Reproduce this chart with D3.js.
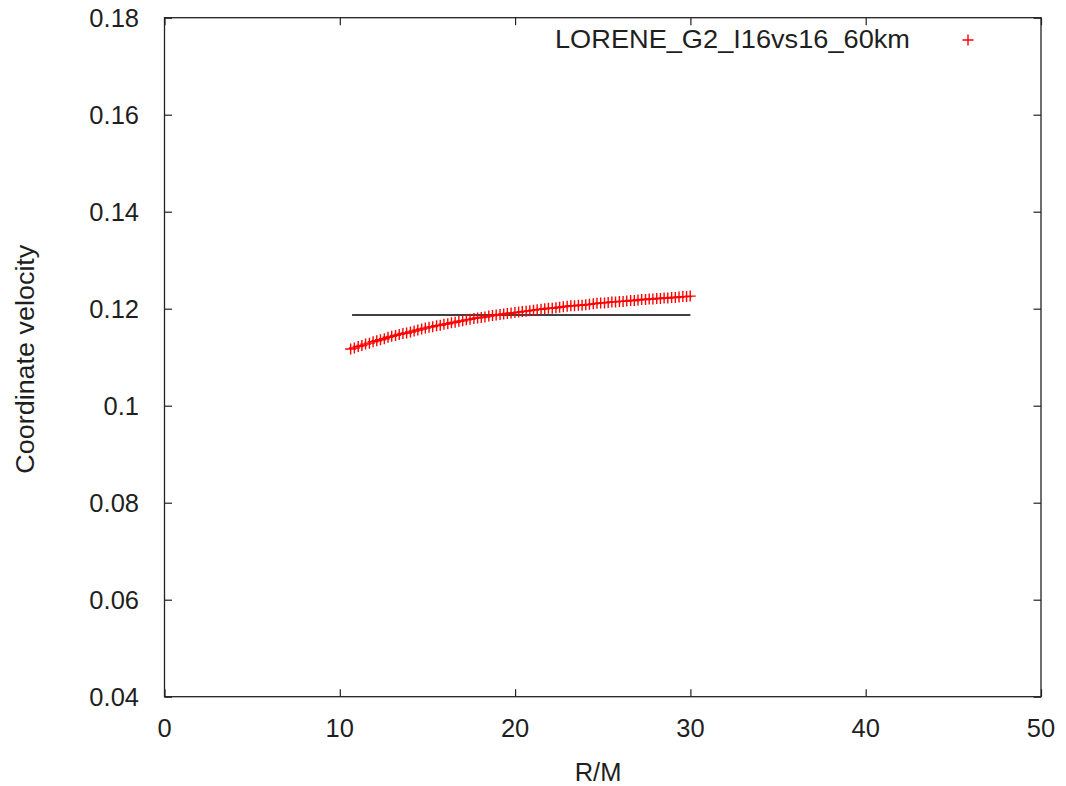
<!DOCTYPE html>
<html>
<head>
<meta charset="utf-8">
<script src="https://cdn.jsdelivr.net/npm/d3@7"></script>
<style>
  html, body { margin: 0; padding: 0; background: #fff; }
  svg text { font-family: "Liberation Sans", Arial, sans-serif; fill: #1f1f1f; }
</style>
</head>
<body>
<svg id="chart" width="1066" height="786"></svg>
<script>
// Orbital separation R/M and coordinate velocity of the LORENE_G2_I16vs16_60km run
const radius = [
  10.62, 10.83, 11.05, 11.26, 11.47, 11.69, 11.90, 12.11, 12.32, 12.54,
  12.75, 12.96, 13.18, 13.39, 13.60, 13.81, 14.03, 14.24, 14.45, 14.67,
  14.88, 15.09, 15.30, 15.52, 15.73, 15.94, 16.16, 16.37, 16.58, 16.79,
  17.01, 17.22, 17.43, 17.65, 17.86, 18.07, 18.28, 18.50, 18.71, 18.92,
  19.14, 19.35, 19.56, 19.77, 19.99, 20.20, 20.41, 20.63, 20.84, 21.05,
  21.26, 21.48, 21.69, 21.90, 22.12, 22.33, 22.54, 22.75, 22.97, 23.18,
  23.39, 23.61, 23.82, 24.03, 24.24, 24.46, 24.67, 24.88, 25.10, 25.31,
  25.52, 25.73, 25.95, 26.16, 26.37, 26.59, 26.80, 27.01, 27.22, 27.44,
  27.65, 27.86, 28.08, 28.29, 28.50, 28.71, 28.93, 29.14, 29.35, 29.57,
  29.78, 29.99
];
const velocity = [
  0.1117, 0.1119, 0.1122, 0.1124, 0.1127, 0.1129, 0.1132, 0.1134, 0.1136, 0.1138,
  0.1141, 0.1143, 0.1145, 0.1147, 0.1149, 0.1150, 0.1152, 0.1154, 0.1156, 0.1158,
  0.1160, 0.1162, 0.1163, 0.1165, 0.1166, 0.1168, 0.1169, 0.1171, 0.1172, 0.1174,
  0.1175, 0.1177, 0.1178, 0.1180, 0.1181, 0.1182, 0.1183, 0.1185, 0.1186, 0.1187,
  0.1188, 0.1189, 0.1190, 0.1191, 0.1192, 0.1193, 0.1194, 0.1195, 0.1196, 0.1197,
  0.1198, 0.1199, 0.1200, 0.1201, 0.1201, 0.1202, 0.1203, 0.1204, 0.1205, 0.1206,
  0.1206, 0.1207, 0.1207, 0.1208, 0.1209, 0.1210, 0.1211, 0.1212, 0.1212, 0.1213,
  0.1214, 0.1214, 0.1215, 0.1215, 0.1216, 0.1217, 0.1217, 0.1218, 0.1219, 0.1219,
  0.1220, 0.1220, 0.1221, 0.1221, 0.1222, 0.1222, 0.1223, 0.1223, 0.1224, 0.1225,
  0.1225, 0.1226
];
// Constant reference velocity drawn as a flat line over the same range
const refLineR = [10.7, 30.0];
const refLineV = [0.1187, 0.1187];

const xTicks = [0, 10, 20, 30, 40, 50];
const yTicks = [0.04, 0.06, 0.08, 0.10, 0.12, 0.14, 0.16, 0.18];
const yTickLabels = ["0.04", "0.06", "0.08", "0.1", "0.12", "0.14", "0.16", "0.18"];
const seriesName = "LORENE_G2_I16vs16_60km";

const svg = d3.select("#chart");
const margin = { left: 164.5, right: 1041, top: 17.7, bottom: 696.7 };

const x = d3.scaleLinear().domain([0, 50]).range([margin.left, margin.right]);
const y = d3.scaleLinear().domain([0.04, 0.18]).range([margin.bottom, margin.top]);

const fontSize = 25.5;
const tickLen = 7.5;
const frameColor = "#222";

// Ticks (mirrored on all four sides, pointing into the plot)
const axisBottom = d3.axisBottom(x).tickValues(xTicks).tickSize(tickLen).tickFormat("");
const axisTop = d3.axisTop(x).tickValues(xTicks).tickSize(tickLen).tickFormat("");
const axisLeft = d3.axisLeft(y).tickValues(yTicks).tickSize(tickLen).tickFormat("");
const axisRight = d3.axisRight(y).tickValues(yTicks).tickSize(tickLen).tickFormat("");

function styleAxis(g) {
  g.select(".domain").remove();
  g.selectAll(".tick line").attr("stroke", frameColor).attr("stroke-width", 1.2);
}

svg.append("g").attr("transform", `translate(0,${margin.bottom})`)
  .call(axisTop).call(styleAxis);
svg.append("g").attr("transform", `translate(0,${margin.top})`)
  .call(axisBottom).call(styleAxis);
svg.append("g").attr("transform", `translate(${margin.left},0)`)
  .call(axisRight).call(styleAxis);
svg.append("g").attr("transform", `translate(${margin.right},0)`)
  .call(axisLeft).call(styleAxis);

// Tick labels
svg.append("g").selectAll("text").data(xTicks).join("text")
  .attr("x", d => x(d))
  .attr("y", 737)
  .attr("text-anchor", "middle")
  .attr("font-size", fontSize)
  .text(d => d);

svg.append("g").selectAll("text").data(yTicks).join("text")
  .attr("x", 139)
  .attr("y", d => y(d) + 9)
  .attr("text-anchor", "end")
  .attr("font-size", fontSize)
  .text((d, i) => yTickLabels[i]);

// Frame
svg.append("rect")
  .attr("x", margin.left).attr("y", margin.top)
  .attr("width", margin.right - margin.left)
  .attr("height", margin.bottom - margin.top)
  .attr("fill", "none")
  .attr("stroke", frameColor)
  .attr("stroke-width", 1.3);

// Axis titles
svg.append("text")
  .attr("x", 598).attr("y", 781)
  .attr("text-anchor", "middle")
  .attr("font-size", fontSize)
  .text("R/M");

svg.append("text")
  .attr("transform", `translate(34,${(margin.top + margin.bottom) / 2 + 2}) rotate(-90)`)
  .attr("text-anchor", "middle")
  .attr("font-size", fontSize)
  .attr("textLength", 229)
  .attr("lengthAdjust", "spacingAndGlyphs")
  .text("Coordinate velocity");

// Reference line
const line = d3.line().x(d => x(d[0])).y(d => y(d[1]));
svg.append("path")
  .datum(refLineR.map((r, i) => [r, refLineV[i]]))
  .attr("d", line)
  .attr("fill", "none")
  .attr("stroke", "#000")
  .attr("stroke-width", 1.5);

// Data points as '+' markers
const half = 5.5;
const crossPath = `M${-half},0H${half}M0,${-half}V${half}`;
svg.append("g").selectAll("path").data(radius).join("path")
  .attr("transform", (d, i) => `translate(${x(d)},${y(velocity[i])})`)
  .attr("d", crossPath)
  .attr("stroke", "#ff0000")
  .attr("stroke-width", 1.4)
  .attr("fill", "none");

// Legend
svg.append("text")
  .attr("x", 555).attr("y", 48)
  .attr("font-size", fontSize)
  .attr("textLength", 355)
  .attr("lengthAdjust", "spacingAndGlyphs")
  .text(seriesName);
svg.append("path")
  .attr("transform", `translate(968,40)`)
  .attr("d", crossPath)
  .attr("stroke", "#ff0000")
  .attr("stroke-width", 1.4)
  .attr("fill", "none");
</script>
</body>
</html>
